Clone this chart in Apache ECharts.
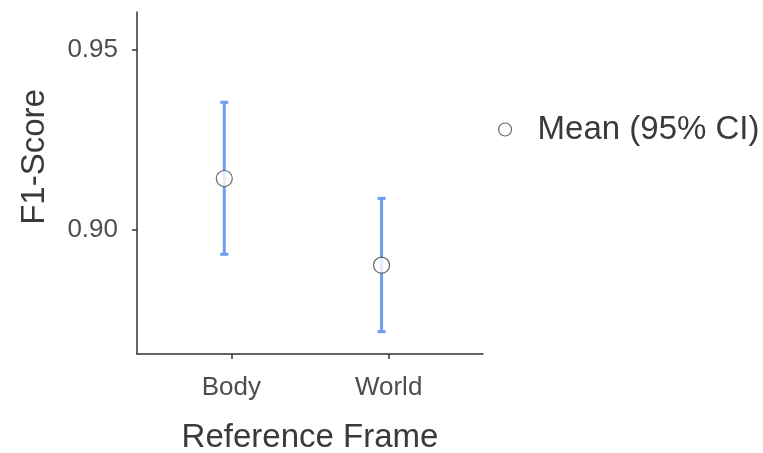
<!DOCTYPE html>
<html>
<head>
<meta charset="utf-8">
<script src="https://cdn.jsdelivr.net/npm/echarts@6/dist/echarts.min.js"></script>
<style>
	html, body { margin: 0; padding: 0; background: #fff; }
	#chart { width: 763px; height: 453px; }
</style>
</head>
<body>
<div id="chart"></div>
<script>
// 数据
var categories = ['Body', 'World']
var means = [0.9143, 0.8903]
var lower = [0.8933, 0.8719]
var upper = [0.9354, 0.9088]
var yTicks = [0.90, 0.95]

var dodge = -0.045 // 点稍微左移
var fontFamily = 'Arial, "Liberation Sans", sans-serif'

var barData = categories.map(function (c, i) {
	return [i + 1 + dodge, lower[i], upper[i]]
})
var pointData = categories.map(function (c, i) {
	return [i + 1 + dodge, means[i]]
})

var chart = echarts.init(document.getElementById('chart'))
chart.setOption({
	animation: false,
	grid: { left: 137, top: 12, right: 280, bottom: 99, outerBoundsMode: 'none' },
	legend: {
		data: ['Mean (95% CI)'],
		left: 493,
		top: 108,
		icon: 'circle',
		itemWidth: 13,
		itemHeight: 13,
		itemStyle: { color: '#fff', borderColor: '#444', borderWidth: 1.2 },
		textStyle: { fontSize: 33, color: '#3a3a3a', fontFamily: fontFamily, padding: [0, 0, 0, 21] }
	},
	xAxis: {
		type: 'value',
		min: 0.4,
		max: 2.6,
		name: 'Reference Frame',
		nameLocation: 'middle',
		nameGap: 67,
		nameTextStyle: { fontSize: 33, color: '#3a3a3a', fontFamily: fontFamily },
		axisLine: { lineStyle: { color: '#333', width: 1.5 } },
		axisTick: { show: true, length: 5, customValues: [1, 2], lineStyle: { color: '#333', width: 1.5 } },
		axisLabel: {
			customValues: [1, 2],
			margin: 21,
			fontSize: 26,
			color: '#4d4d4d',
			fontFamily: fontFamily,
			formatter: function (v) { return categories[Math.round(v) - 1] }
		},
		splitLine: { show: false }
	},
	yAxis: {
		type: 'value',
		min: 0.8657,
		max: 0.9604,
		name: 'F1-Score',
		nameLocation: 'middle',
		nameGap: 86,
		nameTextStyle: { fontSize: 33, color: '#3a3a3a', fontFamily: fontFamily, padding: [0, 0, 0, 52] },
		axisLine: { show: true, lineStyle: { color: '#333', width: 1.5 } },
		axisTick: { show: true, length: 5, customValues: yTicks, lineStyle: { color: '#333', width: 1.5 } },
		axisLabel: {
			customValues: yTicks,
			margin: 19,
			fontSize: 26,
			color: '#4d4d4d',
			fontFamily: fontFamily,
			formatter: function (v) { return v.toFixed(2) }
		},
		splitLine: { show: false }
	},
	series: [
		{
			name: 'CI',
			type: 'custom',
			data: barData,
			renderItem: function (params, api) {
				var lo = api.coord([api.value(0), api.value(1)])
				var hi = api.coord([api.value(0), api.value(2)])
				var w = 4
				var style = { stroke: '#6d9eeb', lineWidth: 3 }
				return {
					type: 'group',
					children: [
						{ type: 'line', shape: { x1: lo[0], y1: lo[1], x2: hi[0], y2: hi[1] }, style: style },
						{ type: 'line', shape: { x1: lo[0] - w, y1: lo[1], x2: lo[0] + w, y2: lo[1] }, style: style },
						{ type: 'line', shape: { x1: hi[0] - w, y1: hi[1], x2: hi[0] + w, y2: hi[1] }, style: style }
					]
				}
			},
			z: 1
		},
		{
			name: 'Mean (95% CI)',
			type: 'scatter',
			data: pointData,
			symbol: 'circle',
			symbolSize: 16,
			itemStyle: { color: '#fff', borderColor: '#444', borderWidth: 1.2 },
			z: 2
		}
	]
})
</script>
</body>
</html>
